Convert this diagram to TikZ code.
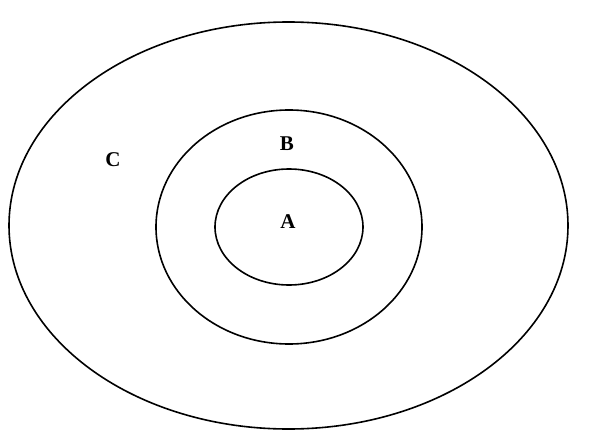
\documentclass[tikz,border=0pt]{standalone}
\usepackage{fontspec}
\setmainfont{Liberation Serif}
\tikzset{
  ring/.style={draw=black, line width=1.6pt},
  lbl/.style={font=\fontsize{21}{24}\selectfont\bfseries, inner sep=0pt}
}
\begin{document}
\begin{tikzpicture}[x=1pt,y=-1pt]
\useasboundingbox (0,0) rectangle (603,431);
\draw[ring] (288.5,225.5) ellipse [x radius=279.5, y radius=203.5];
\draw[ring] (289,227) ellipse [x radius=133, y radius=117];
\draw[ring] (289,227) ellipse [x radius=74, y radius=58];
\node[lbl] (C) at (113,160) {C};
\node[lbl] (B) at (287,144) {B};
\node[lbl] (A) at (288,222) {A};
\end{tikzpicture}
\end{document}
